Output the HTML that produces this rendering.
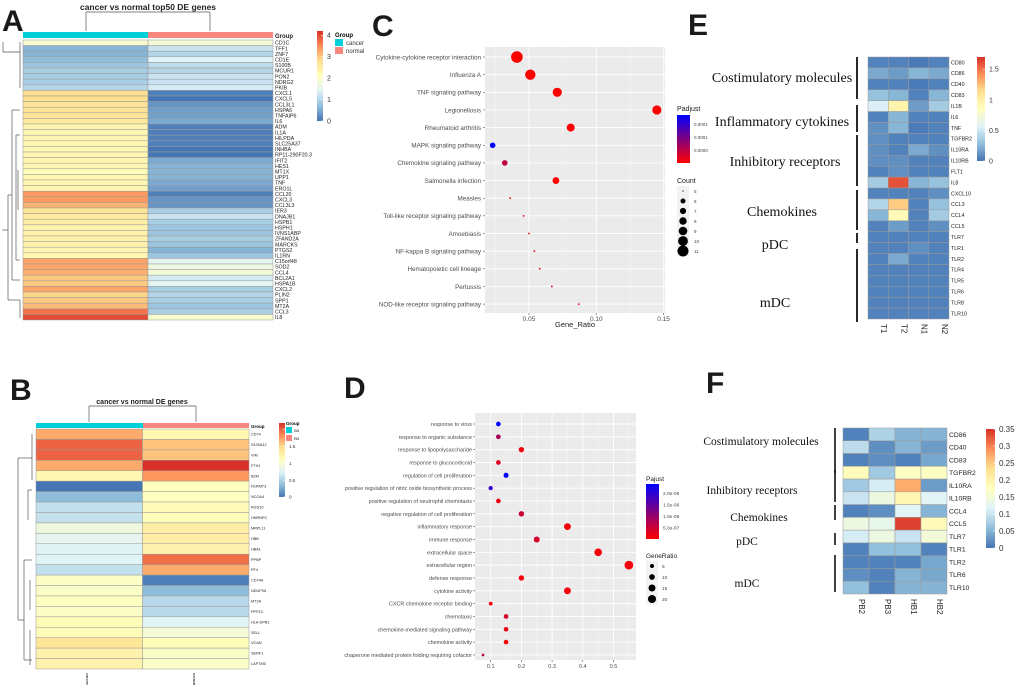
<!DOCTYPE html>
<html><head><meta charset="utf-8"><style>
html,body{margin:0;padding:0;background:#fff;}
svg{display:block;font-family:"Liberation Sans",sans-serif;}
.pl{font-family:"Liberation Sans",sans-serif;font-weight:bold;font-size:30px;fill:#1a1a1a;}
.grp{font-family:"Liberation Serif",serif;fill:#111;}
</style></head><body>
<svg id="fig" width="1020" height="690" viewBox="0 0 1020 690" xmlns="http://www.w3.org/2000/svg">
<text class="pl" x="2" y="31">A</text>
<text class="pl" x="10" y="400">B</text>
<text class="pl" x="372" y="36">C</text>
<text class="pl" x="344" y="398">D</text>
<text class="pl" x="688" y="35">E</text>
<text class="pl" x="706" y="393">F</text>
</svg>
<script>
// ---------- Panel A data ----------
const aGenes=["CD1C","TFF1","ZNF7","CD1E","S100B","MCUR1","PON2","NDRG2","PKIB","CXCL1","CXCL5","CCL3L1","HSPA6","TNFAIP6","IL6","ADM","IL1A","HILPDA","SLC25A37","INHBA","RP11-290F20.3","IFIT2","HES1","MT1X","UPP1","TNF","ERO1L","CCL20","CXCL3","CCL3L3","IER3","DNAJB1","HSPB1","HSPH1","IVNS1ABP","ZFAND2A","MARCKS","PTGS2","IL1RN","C15orf48","SOD2","CCL4","BCL2A1","HSPA1B","CXCL2","PLIN2","SPP1","MT2A","CCL3","IL8"];
const aCancer=[1.9,0.6,0.6,0.7,0.8,0.9,0.9,0.9,1.0,2.8,2.8,2.7,2.7,2.7,2.6,2.3,2.3,2.3,2.3,2.3,2.3,2.3,2.3,2.2,2.3,2.3,2.3,3.4,3.4,3.2,2.7,2.6,2.5,2.4,2.4,2.4,2.4,2.3,2.3,3.3,3.3,3.2,3.0,3.0,3.3,2.9,3.0,3.1,3.7,4.0];
const aNormal=[1.8,1.2,1.0,1.4,1.1,1.0,1.2,1.2,1.3,0.1,0.0,0.3,0.4,0.4,0.5,0.1,0.1,0.1,0.1,0.0,0.0,0.5,0.6,0.6,0.6,0.5,0.4,0.1,0.3,0.3,0.9,1.2,0.9,0.8,0.8,0.9,0.8,0.6,0.8,1.5,1.7,1.8,1.3,1.5,0.9,1.0,0.9,0.8,0.9,1.9];
const aTicks=[0,1,2,3,4];
// ---------- Panel B data ----------
const bGenes=["CD74","S100A12","VIM","FTH1","B2M","FERMT3","NCOA4","RGS10","HNRNPC","MRPL11","HBB","HBA1","PPBP","PF4","CD74A","NDUFS6","MT2A","PPP1C","HLA-DPB1","SELL","VCAN","SERF1","LAPTM5"];
const bCancer=[1.7,2.0,2.0,1.7,1.2,0.0,0.35,0.6,0.6,0.9,0.8,0.75,0.75,0.6,1.05,1.05,1.1,1.05,1.15,1.15,1.4,1.25,1.25];
const bNormal=[1.2,1.6,1.6,2.2,1.8,1.1,1.1,1.15,1.15,1.3,1.3,1.25,1.95,1.7,0.05,0.35,0.55,0.55,0.75,0.95,1.15,1.05,1.05];
const bTicks=[0,0.5,1,1.5,2];
// ---------- Panel C data ----------
const cTerms=["Cytokine-cytokine receptor interaction","Influenza A","TNF signaling pathway","Legionellosis","Rheumatoid arthritis","MAPK signaling pathway","Chemokine signaling pathway","Salmonella infection","Measles","Toll-like receptor signaling pathway","Amoebiasis","NF-kappa B signaling pathway","Hematopoietic cell lineage","Pertussis","NOD-like receptor signaling pathway"];
const cRatio=[0.041,0.051,0.071,0.145,0.081,0.023,0.032,0.070,0.036,0.046,0.050,0.054,0.058,0.067,0.087];
const cCount=[11,10,9,9,8,6,6,7,5,5,5,5,5,5,5];
const cPadj=[0.00000,0.00000,0.00000,0.00000,0.00000,0.00012,0.00003,0.00000,0.00001,0.00001,0.00001,0.00001,0.00001,0.00001,0.00001];
const cTicks=[0.05,0.10,0.15];
const cCountLegend=[5,6,7,8,9,10,11];
// ---------- Panel D data ----------
const dTerms=["response to virus","response to organic substance","response to lipopolysaccharide","response to glucocorticoid","regulation of cell proliferation","positive regulation of nitric oxide biosynthetic process","positive regulation of neutrophil chemotaxis","negative regulation of cell proliferation","inflammatory response","immune response","extracellular space","extracellular region","defense response","cytokine activity","CXCR chemokine receptor binding","chemotaxis","chemokine-mediated signaling pathway","chemokine activity","chaperone mediated protein folding requiring cofactor"];
const dRatio=[0.125,0.125,0.2,0.125,0.15,0.1,0.125,0.2,0.35,0.25,0.45,0.55,0.2,0.35,0.1,0.15,0.15,0.15,0.075];
const dCount=[6,6,8,6,7,5,6,8,13,10,16,21,8,13,4,6,6,6,2];
const dPadj=[2.4e-6,8e-7,1e-7,3e-7,2.4e-6,1.9e-6,2e-7,5e-7,1e-7,4e-7,1e-7,1e-7,1e-7,1e-7,1e-7,4e-7,2e-7,1e-7,6e-7];
const dTicks=[0.1,0.2,0.3,0.4,0.5];
const dPTicks=[5e-7,1e-6,1.5e-6,2e-6];
const dSizeLegend=[5,10,15,20];
// ---------- Panel E data ----------
const eGenes=["CD80","CD86","CD40","CD83","IL1B","IL6","TNF","TGFBR2","IL10RA","IL10RB","FLT1","IL8","CXCL10","CCL3","CCL4","CCL5","TLR7","TLR1","TLR2","TLR4","TLR5","TLR6","TLR8","TLR10"];
const eSamples=["T1","T2","N1","N2"];
const eT1=[.05,.2,.05,.3,.55,.05,.1,.1,.1,.1,.05,.35,.05,.4,.25,.05,.05,.05,.05,.05,.05,.05,.05,.05];
const eT2=[.05,.15,.05,.25,.95,.25,.25,.05,.05,.1,.1,1.6,.05,1.2,.9,.15,.05,.05,.2,.05,.05,.05,.05,.05];
const eN1=[.02,.25,.02,.05,.15,.05,.02,.05,.2,.05,.05,.25,.05,.05,.05,.05,.05,.1,.05,.05,.05,.05,.05,.05];
const eN2=[.05,.2,.05,.25,.35,.05,.05,.05,.1,.05,.05,.3,.1,.3,.35,.1,.05,.05,.05,.05,.05,.05,.05,.05];
const eTicks=[0,0.5,1,1.5];
// ---------- Panel F data ----------
const fGenes=["CD86","CD40","CD83","TGFBR2","IL10RA","IL10RB","CCL4","CCL5","TLR7","TLR1","TLR2","TLR6","TLR10"];
const fSamples=["PB2","PB3","HB1","HB2"];
const fPB2=[.01,.09,.01,.18,.07,.10,.01,.14,.11,.01,.01,.02,.06];
const fPB3=[.08,.02,.02,.07,.11,.14,.02,.13,.14,.06,.01,.01,.01];
const fHB1=[.05,.05,.01,.17,.27,.19,.12,.34,.10,.06,.01,.05,.05];
const fHB2=[.05,.03,.04,.17,.03,.12,.05,.18,.15,.01,.04,.04,.05];
const fTicks=[0,0.05,0.1,0.15,0.2,0.25,0.3,0.35];

const NS="http://www.w3.org/2000/svg";
const svg=document.getElementById('fig');
function el(tag,attrs,parent,text){const e=document.createElementNS(NS,tag);for(const k in attrs)e.setAttribute(k,attrs[k]);if(text!==undefined)e.textContent=text;(parent||svg).appendChild(e);return e;}
const PAL=["#4575B4","#91BFDB","#E0F3F8","#FFFFBF","#FEE090","#FC8D59","#D73027"];
function hex(h){return [1,3,5].map(i=>parseInt(h.substr(i,2),16));}
function ramp(t,stops){t=Math.max(0,Math.min(1,t));const n=stops.length-1;const i=Math.min(n-1,Math.floor(t*n));const f=t*n-i;const a=hex(stops[i]),b=hex(stops[i+1]);return "rgb("+a.map((v,k)=>Math.round(v+(b[k]-v)*f)).join(",")+")";}
function gradDef(id,stops,vertical){let defs=svg.querySelector('defs')||el('defs',{});const g=el('linearGradient',{id:id,x1:0,y1:vertical?1:0,x2:0,y2:vertical?0:1},defs);stops.forEach((c,i)=>el('stop',{offset:(i/(stops.length-1)),'stop-color':c},g));}
gradDef('rdylbu',PAL,true);
gradDef('padj',["#FF0000","#0000FF"],true);

// generic heatmap
function heat(o){
 const g=el('g',{});
 
 
 const nr=o.genes.length,nc=o.cols.length,rh=(o.y1-o.y0)/nr,cw=(o.x1-o.x0)/nc;
 for(let r=0;r<nr;r++){for(let c=0;c<nc;c++){
  const v=o.cols[c][r];
  const cell=el('rect',{x:o.x0+c*cw,y:o.y0+r*rh,width:cw,height:rh,fill:ramp(v/o.max,PAL),stroke:"#9a9a9a","stroke-width":0.5},g);
  
  
 }
 const t=el('text',{x:o.x1+2,y:o.y0+r*rh+rh/2+o.fs*0.35,'font-size':o.fs,fill:"#222"},g,o.genes[r]);
 
 
 }
 // colorbar
 const cb=el('rect',{x:o.cbx,y:o.cby0,width:o.cbw,height:o.cby1-o.cby0,fill:"url(#rdylbu)"},g);
 
 
 o.ticks.forEach(v=>{const y=o.cby1-(v/o.max)*(o.cby1-o.cby0);
  el('line',{x1:o.cbx+o.cbw-2,x2:o.cbx+o.cbw,y1:y,y2:y,stroke:"#fff","stroke-width":0.6},g);
  const tl=el('text',{x:o.cbx+o.cbw+4,y:y+o.tfs*0.35,'font-size':o.tfs,fill:"#333"},g,String(v));
  
  
 });
 if(o.samples){o.samples.forEach((s,c)=>{const cx=o.x0+c*cw+cw/2;const st=el('text',{x:0,y:0,'font-size':8,fill:"#222",transform:`translate(${cx+3},${o.y1+5}) rotate(90)`},g,s);
  
  });}
 return {rh,cw};
}
function line(x1,y1,x2,y2,c,w){return el('line',{x1,y1,x2,y2,stroke:c||"#555","stroke-width":w||0.7});}

// ---------- Panel A ----------
heat({name:'heatmap-a',genes:aGenes,cols:[aCancer,aNormal],max:4.2,x0:23,x1:273,y0:40,y1:320,fs:5.3,cbx:317,cby0:31,cby1:121,cbw:6,ticks:aTicks,tfs:7});
el('rect',{x:23,y:32,width:125,height:6,fill:"#00CED9"});
el('rect',{x:148,y:32,width:125,height:6,fill:"#F8877F"});
el('text',{x:275,y:38,'font-size':6,'font-weight':'bold',fill:'#222'},null,'Group');
el('text',{x:148,y:10,'font-size':8.5,'font-weight':'bold','text-anchor':'middle',fill:'#222'},null,'cancer vs normal top50 DE genes');
line(86,31,86,12);line(86,12,210,12);line(210,12,210,31);
// legend A
el('text',{x:335,y:37,'font-size':6,'font-weight':'bold'},null,'Group');
el('rect',{x:335,y:39,width:8,height:7,fill:'#00CED9'});el('text',{x:346,y:45,'font-size':6,fill:'#333'},null,'cancer');
el('rect',{x:335,y:47,width:8,height:7,fill:'#F8877F'});el('text',{x:346,y:53,'font-size':6,fill:'#333'},null,'normal');
// dendrogram A (simplified)
[[3,52,8,22,42],[8,22,5,72,170],[5,72,3,170,280],[3,280,8,200,320]].forEach(()=>{});
line(3,52,3,42);line(3,52,20,52);line(20,42,20,88);line(12,110,12,280);line(12,110,20,110);line(12,280,20,280);
line(8,195,8,300);line(8,195,12,195);line(2,230,8,230);line(16,135,16,260);line(16,260,20,260);line(18,170,18,210);line(20,300,20,318);line(8,300,20,300);line(16,135,20,135);

// ---------- Panel B ----------
heat({name:'heatmap-b',genes:bGenes,cols:[bCancer,bNormal],max:2.2,x0:36,x1:249,y0:429,y1:669,fs:3.8,cbx:279,cby0:423,cby1:497,cbw:6,ticks:bTicks,tfs:4.5});
el('rect',{x:36,y:423,width:107,height:5,fill:"#00CED9"});
el('rect',{x:143,y:423,width:106,height:5,fill:"#F8877F"});
el('text',{x:251,y:428,'font-size':4.5,'font-weight':'bold'},null,'Group');
el('text',{x:142,y:404,'font-size':7,'font-weight':'bold','text-anchor':'middle',fill:'#222'},null,'cancer vs normal DE genes');
line(89,422,89,406);line(89,406,196,406);line(196,406,196,422);
el('text',{x:286,y:425,'font-size':4.5,'font-weight':'bold'},null,'Group');
el('rect',{x:286,y:427,width:6,height:6,fill:'#00CED9'});el('text',{x:294,y:432,'font-size':4.5},null,'ca');
el('rect',{x:286,y:435,width:6,height:6,fill:'#F8877F'});el('text',{x:294,y:440,'font-size':4.5},null,'no');
el('text',{x:0,y:0,'font-size':4,transform:'translate(86,673) rotate(90)'},null,'cancer');
el('text',{x:0,y:0,'font-size':4,transform:'translate(193,673) rotate(90)'},null,'normal');
line(18,458,18,620);line(18,458,32,458);line(18,620,24,620);line(24,560,24,660);line(24,560,32,560);line(24,660,32,660);line(32,434,32,480);line(28,490,28,520);line(28,490,32,490);line(30,580,30,610);line(30,630,30,665);

// ---------- Panel C ----------
(function(){
 const X0=485,X1=665,Y0=47,Y1=313;
 const xs=v=>529+(v-0.05)/0.05*67.3;
 const ys=i=>57+i*17.65;
 const bg=el('rect',{x:X0,y:Y0,width:X1-X0,height:Y1-Y0,fill:'#EBEBEB'});
 
 
 [0.025,0.075,0.125].forEach(v=>line(xs(v),Y0,xs(v),Y1,'#f6f6f6',0.5));
 cTicks.forEach(v=>{line(xs(v),Y0,xs(v),Y1,'#fff',0.9);line(xs(v),Y1,xs(v),Y1+2,'#333',0.5);
  const t=el('text',{x:xs(v),y:Y1+8,'font-size':6.5,'text-anchor':'middle',fill:'#4d4d4d'},null,v.toFixed(2));
  
  });
 el('text',{x:575,y:327,'font-size':7.5,'text-anchor':'middle',fill:'#222'},null,'Gene_Ratio');
 cTerms.forEach((t,i)=>{line(X0,ys(i),X1,ys(i),'#fff',0.9);line(X0-2,ys(i),X0,ys(i),'#333',0.5);
  const tx=el('text',{x:X0-4,y:ys(i)+2.3,'font-size':6.3,'text-anchor':'end',fill:'#4d4d4d'},null,t);
  
  });
 const clip=el('clipPath',{id:'clipC'},svg.querySelector('defs'));el('rect',{x:X0,y:0,width:X1-X0+20,height:400},clip);
 cTerms.forEach((t,i)=>{const r=cCount[i]<=5?0.9:(cCount[i]-4)*0.6+1.6;
  const d=el('circle',{cx:xs(cRatio[i]),cy:ys(i),r:r,fill:ramp(cPadj[i]/0.00012,["#FF0000","#0000FF"])});
  
  });
 el('text',{x:677,y:111,'font-size':7,fill:'#222'},null,'Padjust');
 el('rect',{x:677,y:115,width:13,height:48,fill:'url(#padj)'});
 ['0.0001','0.0001','0.0000'].forEach((s,k)=>el('text',{x:694,y:126+k*13,'font-size':4.5,fill:'#444'},null,s));
 el('text',{x:677,y:183,'font-size':7,fill:'#222'},null,'Count');
 cCountLegend.forEach((c,k)=>{const y=191+k*10;el('rect',{x:677,y:y-5,width:12,height:10,fill:'#f2f2f2'});
  el('circle',{cx:683,cy:y,r:c<=5?0.6:(c-4)*0.6+1.3,fill:'#000'});
  el('text',{x:694,y:y+2,'font-size':4.5,fill:'#444'},null,String(c));});
})();

// ---------- Panel D ----------
(function(){
 const X0=475,X1=636,Y0=413,Y1=660;
 const xs=v=>460+v*307;
 const ys=i=>424+i*12.83;
 const bg=el('rect',{x:X0,y:Y0,width:X1-X0,height:Y1-Y0,fill:'#EBEBEB'});
 
 
 dTicks.forEach(v=>{line(xs(v),Y0,xs(v),Y1,'#fff',0.9);line(xs(v)+15.35,Y0,xs(v)+15.35,Y1,'#f6f6f6',0.5);line(xs(v),Y1,xs(v),Y1+2,'#333',0.5);
  const t=el('text',{x:xs(v),y:Y1+8,'font-size':5.5,'text-anchor':'middle',fill:'#4d4d4d'},null,String(v));
  
  });
 dTerms.forEach((t,i)=>{line(X0,ys(i),X1,ys(i),'#fff',0.9);line(X0-2,ys(i),X0,ys(i),'#333',0.5);
  const tx=el('text',{x:X0-3,y:ys(i)+2,'font-size':5.4,'text-anchor':'end',fill:'#4d4d4d'},null,t);
  
  });
 dTerms.forEach((t,i)=>{const d=el('circle',{cx:xs(dRatio[i]),cy:ys(i),r:Math.sqrt(dCount[i])*0.95,fill:ramp(dPadj[i]/2.4e-6,["#FF0000","#0000FF"])});
  
  });
 el('text',{x:646,y:481,'font-size':6.5,fill:'#222'},null,'Pajust');
 const gy0=484,gy1=539;
 el('rect',{x:646,y:gy0,width:13,height:gy1-gy0,fill:'url(#padj)'});
 dPTicks.forEach(v=>{const y=gy1-(v/2.4e-6)*(gy1-gy0);el('text',{x:663,y:y+2,'font-size':4.8,fill:'#444'},null,v.toExponential(1).replace('e-','e-0'));});
 el('text',{x:646,y:558,'font-size':6.5,fill:'#222'},null,'GeneRatio');
 dSizeLegend.forEach((c,k)=>{const y=566+k*11;el('rect',{x:646,y:y-5.5,width:12,height:11,fill:'#f2f2f2'});
  el('circle',{cx:652,cy:y,r:Math.sqrt(c)*0.9,fill:'#000'});
  el('text',{x:662,y:y+2,'font-size':4.8,fill:'#444'},null,String(c));});
})();

// ---------- Panel E ----------
heat({name:'heatmap-e',genes:eGenes,cols:[eT1,eT2,eN1,eN2],samples:eSamples,max:1.7,x0:868,x1:949,y0:57,y1:319,fs:5.3,cbx:977,cby0:57,cby1:161,cbw:8,ticks:eTicks,tfs:7});
[["Costimulatory molecules",782,82],["Inflammatory cytokines",782,126],["Inhibitory receptors",785,166],["Chemokines",782,216],["pDC",775,249],["mDC",775,307]].forEach(a=>{
 const t=el('text',{x:a[1],y:a[2],'font-size':14,'text-anchor':'middle',class:'grp'},null,a[0]);
 
 });
[[57,99],[105,132],[135,186],[190,230],[233,243],[249,322]].forEach(s=>line(857,s[0],857,s[1],'#111',1.8));

// ---------- Panel F ----------
heat({name:'heatmap-f',genes:fGenes,cols:[fPB2,fPB3,fHB1,fHB2],samples:fSamples,max:0.35,x0:843,x1:947,y0:428,y1:594,fs:6.8,cbx:986,cby0:429,cby1:548,cbw:9,ticks:fTicks,tfs:8});
[["Costimulatory molecules",761,445],["Inhibitory receptors",752,494],["Chemokines",759,521],["pDC",747,545],["mDC",747,587]].forEach(a=>{
 const t=el('text',{x:a[1],y:a[2],'font-size':11.5,'text-anchor':'middle',class:'grp'},null,a[0]);
 
 });
[[428,473],[470,502],[505,520],[533,545],[555,592]].forEach(s=>line(835,s[0],835,s[1],'#111',1.6));
</script>
</body></html>
